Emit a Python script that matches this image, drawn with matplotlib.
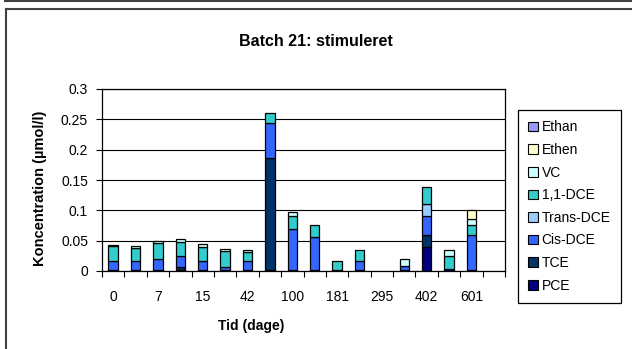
import numpy as np
import matplotlib

matplotlib.use('Agg')
import matplotlib.pyplot as plt
from matplotlib.lines import Line2D

plt.rcParams['font.family'] = ['Liberation Sans', 'DejaVu Sans']

# 18 sampling days, only every other one is labelled on the chart
day_labels = ['0', '', '7', '', '15', '', '42', '', '100', '',
              '181', '', '295', '', '402', '', '601', '']

pce = [0.001, 0.001, 0.001, 0.002, 0.001, 0.001, 0.001, 0.001, 0.001,
       0.001, 0.001, 0.001, 0.0, 0.001, 0.040, 0.004, 0.001, 0.0]
tce = [0, 0, 0, 0.004, 0, 0, 0, 0.186, 0, 0, 0, 0, 0, 0, 0.019, 0, 0, 0]
cis_dce = [0.016, 0.015, 0.019, 0.019, 0.015, 0.006, 0.015, 0.057, 0.069,
           0.055, 0, 0.016, 0, 0.008, 0.032, 0, 0.059, 0]
trans_dce = [0, 0, 0, 0, 0, 0, 0, 0, 0, 0, 0, 0, 0, 0, 0.019, 0, 0, 0]
dce_11 = [0.024, 0.022, 0.026, 0.023, 0.023, 0.026, 0.016, 0.017, 0.021,
          0.020, 0.016, 0.018, 0, 0, 0.029, 0.020, 0.016, 0]
vc = [0.002, 0.004, 0.004, 0.004, 0.006, 0.004, 0.003, 0, 0.007, 0, 0, 0,
      0, 0.011, 0, 0.011, 0.009, 0]
ethen = [0, 0, 0, 0, 0, 0, 0, 0, 0, 0, 0, 0, 0, 0, 0, 0, 0.016, 0]
ethan = [0] * 18

series = [
    ("PCE", pce, '#000080'),
    ("TCE", tce, '#003366'),
    ("Cis-DCE", cis_dce, '#3366FF'),
    ("Trans-DCE", trans_dce, '#99CCFF'),
    ("1,1-DCE", dce_11, '#33CCCC'),
    ("VC", vc, '#CCFFFF'),
    ("Ethen", ethen, '#FFFFCC'),
    ("Ethan", ethan, '#9999FF'),
]

fig = plt.figure(figsize=(6.32, 3.49), dpi=100)
ax = fig.add_axes([102 / 632, 1 - 271 / 349, 403 / 632, 182 / 349])

x = np.arange(len(day_labels))
bottom = np.zeros(len(x))
handles = []
for name, vals, col in series:
    vals = np.array(vals, dtype=float)
    m = vals > 0
    ax.bar(x[m], vals[m], width=0.42, bottom=bottom[m], color=col,
           edgecolor='black', linewidth=0.9, zorder=3)
    bottom += vals
    handles.append(plt.Rectangle((0, 0), 1, 1, facecolor=col,
                                 edgecolor='black', linewidth=0.8))

ax.set_xlim(-0.5, len(x) - 0.5)
ax.set_ylim(0, 0.3)
yt = [0, 0.05, 0.1, 0.15, 0.2, 0.25, 0.3]
ax.set_yticks(yt)
ax.set_yticklabels(['0', '0.05', '0.1', '0.15', '0.2', '0.25', '0.3'], fontsize=10)
ax.yaxis.grid(True, color='black', linewidth=0.8, zorder=0)

# ticks between categories, labels centred under categories
ax.set_xticks(np.arange(len(x) + 1) - 0.5)
ax.set_xticklabels([])
ax.set_xticks(x, minor=True)
ax.set_xticklabels(day_labels, minor=True, fontsize=10)
ax.tick_params(axis='x', which='minor', length=0, pad=14)
ax.tick_params(axis='x', which='major', length=4, color='black')
ax.tick_params(axis='y', length=4, pad=6)
for s in ax.spines.values():
    s.set_color('black')
    s.set_linewidth(0.9)

fig.text(316 / 632, 1 - 41 / 349, 'Batch 21: stimuleret', ha='center',
         va='center', fontsize=11.5, fontweight='bold')
fig.text(40 / 632, 1 - 188 / 349, 'Koncentration (µmol/l)', rotation=90,
         ha='center', va='center', fontsize=10.5, fontweight='bold')
fig.text(251 / 632, 1 - 326 / 349, 'Tid (dage)', ha='center', va='center',
         fontsize=10, fontweight='bold')

leg = fig.legend(handles[::-1], [s[0] for s in series][::-1],
                 loc='upper left', bbox_to_anchor=(518 / 632, 1 - 110 / 349),
                 fontsize=10, handlelength=0.7, handleheight=0.7,
                 handletextpad=0.25, labelspacing=0.62, borderpad=0.75,
                 fancybox=False, framealpha=1, borderaxespad=0)
leg.get_frame().set_edgecolor('black')
leg.get_frame().set_linewidth(0.9)

# chart area borders
fc = '#404040'
fig.add_artist(Line2D([6 / 632, 6 / 632], [0, 1 - 9 / 349], color=fc, lw=1.5,
                      transform=fig.transFigure))
fig.add_artist(Line2D([6 / 632, 1], [1 - 9 / 349, 1 - 9 / 349], color=fc, lw=1.5,
                      transform=fig.transFigure))
fig.add_artist(Line2D([5 / 632, 1], [1 - 1 / 349, 1 - 1 / 349], color=fc, lw=1.5,
                      transform=fig.transFigure))

fig.savefig('out.png', dpi=100)
